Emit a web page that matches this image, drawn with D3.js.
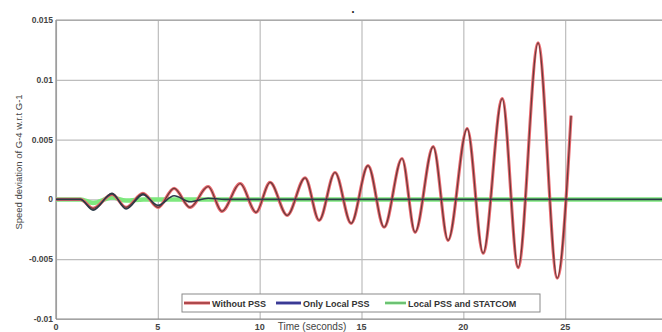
<!DOCTYPE html>
<html>
<head>
<meta charset="utf-8">
<script src="https://cdn.jsdelivr.net/npm/d3@7"></script>
<style>
  html, body { margin: 0; padding: 0; background: #fff; }
  svg { display: block; font-family: "Liberation Sans", Arial, sans-serif; }
</style>
</head>
<body>
<div id="chart"></div>
<script>
// time (s) and speed deviation
const redTime = [0, 1.2, 1.82, 2.75, 3.44, 4.27, 5.01, 5.8, 6.58, 7.47, 8.15, 9.04, 9.82, 10.51, 11.35,
  12.23, 12.92, 13.7, 14.49, 15.32, 16.11, 16.99, 17.63, 18.52, 19.25, 20.19, 20.97, 21.91, 22.69,
  23.67, 24.61, 25.29];
const redValue = [0, 0, -0.00075, 0.00042, -0.00067, 0.0005, -0.00067, 0.00092, -0.00067, 0.00108,
  -0.001, 0.00133, -0.00108, 0.00142, -0.00133, 0.0018, -0.00175, 0.00225, -0.002, 0.00283, -0.00233,
  0.00342, -0.00275, 0.00442, -0.00342, 0.00592, -0.0045, 0.00842, -0.0057, 0.01308, -0.00658, 0.007];

const blueTime = [0, 1.2, 1.82, 2.75, 3.44, 4.27, 5.01, 5.8, 6.58, 7.47, 8.3, 30];
const blueValue = [0, 0, -0.0009, 0.0005, -0.0008, 0.0004, -0.0005, 0.0003, -0.0002, 0.0001, 0, 0];

const greenTime = [0, 1.2, 1.82, 2.75, 3.44, 4.3, 30];
const greenValue = [0, 0, -0.0003, 0.00015, -0.0001, 0, 0];

const xTicks = [0, 5, 10, 15, 20, 25, 30];
const xTickLabels = ["0", "5", "10", "15", "20", "25"];
const yTicks = [-0.01, -0.005, 0, 0.005, 0.01, 0.015];
const yTickLabels = ["-0.01", "-0.005", "0", "0.005", "0.01", "0.015"];
const seriesNames = ["Without PSS", "Only Local PSS", "Local PSS and STATCOM"];

const width = 662;
const height = 332;
const margin = { top: 20, left: 56 };

const svg = d3.select("#chart")
  .append("svg")
  .attr("width", width)
  .attr("height", height);

const x = d3.scaleLinear().domain([0, 30]).range([margin.left, margin.left + 611]);
const y = d3.scaleLinear().domain([-0.01, 0.015]).range([319, margin.top]);

// grid
svg.append("g")
  .attr("transform", `translate(0,319)`)
  .call(d3.axisBottom(x).tickValues(xTicks).tickSize(-299).tickFormat(""))
  .call(g => g.select(".domain").remove())
  .selectAll(".tick line").attr("stroke", "#bdbdbd").attr("stroke-width", 1.2);

svg.append("g")
  .attr("transform", `translate(${margin.left},0)`)
  .call(d3.axisLeft(y).tickValues(yTicks).tickSize(-620).tickFormat(""))
  .call(g => g.select(".domain").remove())
  .selectAll(".tick line").attr("stroke", "#bdbdbd").attr("stroke-width", 1.2);

// axes frame
svg.append("line").attr("x1", margin.left).attr("x2", margin.left).attr("y1", 20).attr("y2", 319)
  .attr("stroke", "#8a8a8a").attr("stroke-width", 1.2);
svg.append("line").attr("x1", margin.left).attr("x2", width).attr("y1", 319).attr("y2", 319)
  .attr("stroke", "#8a8a8a").attr("stroke-width", 1.2);
svg.append("line").attr("x1", margin.left).attr("x2", width).attr("y1", 20).attr("y2", 20)
  .attr("stroke", "#9a9a9a").attr("stroke-width", 1.2);

// tick labels
svg.append("g")
  .selectAll("text")
  .data(yTicks)
  .join("text")
  .attr("x", 53)
  .attr("y", d => y(d) + 3)
  .attr("text-anchor", "end")
  .attr("font-size", 8.5)
  .attr("font-weight", "bold")
  .attr("fill", "#444")
  .text((d, i) => yTickLabels[i]);

svg.append("g")
  .selectAll("text")
  .data(xTicks.slice(0, xTickLabels.length))
  .join("text")
  .attr("x", d => x(d))
  .attr("y", 330)
  .attr("text-anchor", "middle")
  .attr("font-size", 9)
  .attr("font-weight", "bold")
  .attr("fill", "#444")
  .text((d, i) => xTickLabels[i]);

svg.append("text")
  .attr("x", 312)
  .attr("y", 330)
  .attr("text-anchor", "middle")
  .attr("font-size", 10)
  .attr("fill", "#444")
  .text("Time (seconds)");

svg.append("text")
  .attr("transform", "translate(22,162) rotate(-90)")
  .attr("text-anchor", "middle")
  .attr("font-size", 9.5)
  .attr("fill", "#444")
  .text("Speed deviation of G-4 w.r.t G-1");

svg.append("text")
  .attr("x", 353)
  .attr("y", 14)
  .attr("text-anchor", "middle")
  .attr("font-size", 7)
  .attr("fill", "#111")
  .text("•");

// lines
const line = d3.line()
  .x(d => x(d[0]))
  .y(d => y(d[1]))
  .curve(d3.curveMonotoneX);

svg.append("clipPath").attr("id", "plot-clip")
  .append("rect").attr("x", margin.left).attr("y", 0).attr("width", width).attr("height", height);

const plot = svg.append("g").attr("clip-path", "url(#plot-clip)");

const redData = d3.zip(redTime, redValue);
const blueData = d3.zip(blueTime, blueValue);
const greenData = d3.zip(greenTime, greenValue);

plot.append("path").datum(greenData).attr("d", line)
  .attr("fill", "none").attr("stroke", "#7ee87e").attr("stroke-width", 4.5);
plot.append("path").datum(redData).attr("d", line)
  .attr("fill", "none").attr("stroke", "#ea6a70").attr("stroke-width", 3.2);
plot.append("path").datum(redData).attr("d", line)
  .attr("fill", "none").attr("stroke", "#6a3a3a").attr("stroke-width", 1.2);
plot.append("path").datum(blueData).attr("d", line)
  .attr("fill", "none").attr("stroke", "#2a3a48").attr("stroke-width", 1.6);

// legend
const legend = svg.append("g");
legend.append("rect")
  .attr("x", 182).attr("y", 294).attr("width", 358).attr("height", 18)
  .attr("fill", "#fff").attr("stroke", "#8a8a8a").attr("stroke-width", 1);

const legendItems = [
  { name: seriesNames[0], x1: 184, x2: 210, tx: 212, w: 60, color: "#e0585e", core: "#7a3a3a" },
  { name: seriesNames[1], x1: 276, x2: 301, tx: 303, w: 60, color: "#4a4aa8", core: "#2a2a80" },
  { name: seriesNames[2], x1: 385, x2: 406, tx: 408, w: 129, color: "#8ee88e", core: "#4a9a5a" }
];
const li = legend.selectAll("g.item").data(legendItems).join("g").attr("class", "item");
li.append("line")
  .attr("x1", d => d.x1).attr("x2", d => d.x2).attr("y1", 303).attr("y2", 303)
  .attr("stroke", d => d.color).attr("stroke-width", 3);
li.append("line")
  .attr("x1", d => d.x1).attr("x2", d => d.x2).attr("y1", 303).attr("y2", 303)
  .attr("stroke", d => d.core).attr("stroke-width", 1);
li.append("text")
  .attr("x", d => d.tx).attr("y", 306.5)
  .attr("font-size", 9)
  .attr("font-weight", "bold")
  .attr("fill", "#333")
  .text(d => d.name);
</script>
</body>
</html>
